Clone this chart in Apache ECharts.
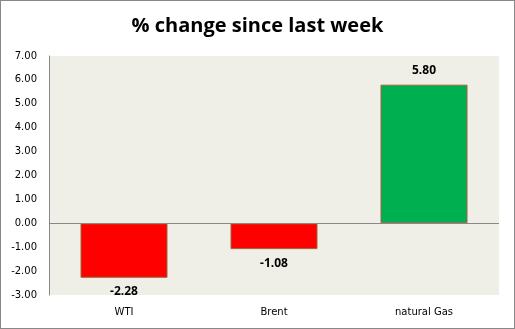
<!DOCTYPE html>
<html><head><meta charset="utf-8">
<script src="https://cdn.jsdelivr.net/npm/echarts@6/dist/echarts.min.js"></script>
<style>html,body{margin:0;padding:0;background:#fff}#c{width:513px;height:327px;border:1px solid #888;}</style>
</head><body><div id="c"></div>
<script>
const categories = ['WTI', 'Brent', 'natural Gas'];
const values = [-2.28, -1.08, 5.80];
const colors = ['#ff0000', '#ff0000', '#00b050'];
const title = '% change since last week';

const chart = echarts.init(document.getElementById('c'));
chart.setOption({
  animation: false,
  title: {text: title, left: 'center', top: 10,
    textStyle: {fontFamily: 'Open Sans', fontWeight: 'bold', fontSize: 20, color: '#000'}},
  grid: {left: 48, right: 15, top: 55, bottom: 33, show: true, backgroundColor: '#efefe7', borderWidth: 0},
  xAxis: {type: 'category', data: categories,
    axisLine: {show: false}, axisTick: {show: false},
    axisLabel: {fontFamily: 'DejaVu Sans', fontSize: 10, color: '#000', margin: 12}},
  yAxis: {type: 'value', min: -3, max: 7, interval: 1,
    axisLine: {show: true, lineStyle: {color: '#888'}}, axisTick: {show: false},
    splitLine: {show: false},
    axisLabel: {fontFamily: 'DejaVu Sans', fontSize: 10, color: '#000', formatter: v => v.toFixed(2), margin: 12}},
  series: [{
    type: 'bar', barWidth: '58%',
    data: values.map((v, i) => ({value: v, itemStyle: {color: colors[i]},
      label: {position: v < 0 ? 'bottom' : 'top'}})),
    itemStyle: {borderColor: '#a0623a', borderWidth: 1},
    label: {show: true, formatter: p => p.value.toFixed(2), fontFamily: 'Open Sans', fontWeight: 'bold', fontSize: 12, color: '#000', distance: 8},
    markLine: {silent: true, symbol: 'none', label: {show: false},
      lineStyle: {color: '#888', type: 'solid', width: 1}, data: [{yAxis: 0}]}
  }]
});
</script></body></html>
